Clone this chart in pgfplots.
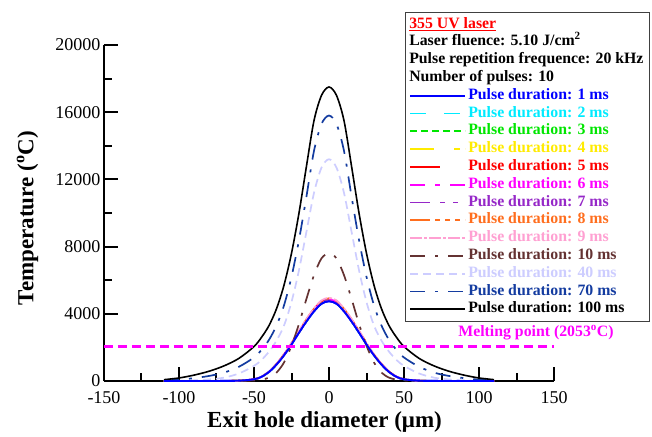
\documentclass[border=0pt]{standalone}
\usepackage{pgfplots}
\usepackage{pgfplotstable}
\usepackage{fontspec}
\setmainfont{Liberation Serif}
\pgfplotsset{compat=1.18}
\definecolor{colA}{RGB}{0,0,255}
\definecolor{colB}{RGB}{0,235,255}
\definecolor{colC}{RGB}{0,230,0}
\definecolor{colD}{RGB}{255,235,0}
\definecolor{colE}{RGB}{255,0,0}
\definecolor{colF}{RGB}{255,0,255}
\definecolor{colG}{RGB}{150,40,200}
\definecolor{colH}{RGB}{255,110,30}
\definecolor{colI}{RGB}{255,160,210}
\definecolor{colJ}{RGB}{100,50,50}
\definecolor{colK}{RGB}{205,205,255}
\definecolor{colL}{RGB}{20,60,160}
\definecolor{colM}{RGB}{0,0,0}
\pgfplotstableread{
x t1 t2 t3 t4 t5 t6 t7 t8 t9 t10 t40 t70 t100
-110 0 0 0 0 0 0 0 0 0 0 0 30 80
-100 0 0 0 0 0 0 0 0 0 0 10 80 180
-90 0 0 0 0 0 0 0 0 0 0 40 170 350
-80 0 0 0 0 0 0 0 0 0 0 90 300 580
-70 5 5 5 5 5 5 5 5 5 0 200 500 900
-60 20 20 20 20 21 20 21 21 21 5 450 850 1350
-50 100 101 101 102 104 102 103 104 105 30 900 1400 2050
-45 250 252 253 255 260 255 257 260 262 80 1250 1850 2600
-40 540 545 545 550 560 550 555 560 565 200 1750 2450 3300
-35 980 985 990 990 1010 1000 1005 1015 1020 500 2400 3300 4300
-30 1530 1540 1545 1550 1580 1560 1570 1585 1595 1100 3300 4500 5700
-25 2180 2190 2195 2200 2250 2225 2240 2260 2270 2100 4700 6200 7600
-20 2880 2890 2900 2910 2970 2940 2960 2980 3000 3400 6600 8400 10000
-15 3550 3560 3570 3590 3660 3620 3650 3680 3700 4900 8900 11000 12800
-10 4150 4170 4180 4190 4280 4240 4260 4300 4320 6300 11200 13700 15500
-5 4600 4620 4630 4650 4750 4700 4730 4770 4800 7300 12700 15300 17000
0 4750 4770 4780 4800 4900 4850 4880 4920 4950 7600 13200 15800 17500
5 4600 4620 4630 4650 4750 4700 4730 4770 4800 7300 12700 15300 17000
10 4150 4170 4180 4190 4280 4240 4260 4300 4320 6300 11200 13700 15500
15 3550 3560 3570 3590 3660 3620 3650 3680 3700 4900 8900 11000 12800
20 2880 2890 2900 2910 2970 2940 2960 2980 3000 3400 6600 8400 10000
25 2180 2190 2195 2200 2250 2225 2240 2260 2270 2100 4700 6200 7600
30 1530 1540 1545 1550 1580 1560 1570 1585 1595 1100 3300 4500 5700
35 980 985 990 990 1010 1000 1005 1015 1020 500 2400 3300 4300
40 540 545 545 550 560 550 555 560 565 200 1750 2450 3300
45 250 252 253 255 260 255 257 260 262 80 1250 1850 2600
50 100 101 101 102 104 102 103 104 105 30 900 1400 2050
60 20 20 20 20 21 20 21 21 21 5 450 850 1350
70 5 5 5 5 5 5 5 5 5 0 200 500 900
80 0 0 0 0 0 0 0 0 0 0 90 300 580
90 0 0 0 0 0 0 0 0 0 0 40 170 350
100 0 0 0 0 0 0 0 0 0 0 10 80 180
110 0 0 0 0 0 0 0 0 0 0 0 30 80
}\datatable
\pgfplotstableread{
x y
-150 2053
150 2053
}\meltline
\begin{document}
\begin{tikzpicture}
\begin{axis}[
  scale only axis, width=450bp, height=336bp,
  xmin=-150, xmax=150, ymin=0, ymax=20000,
  xtick={-150,-100,...,150}, minor xtick={-125,-75,...,125},
  ytick={0,4000,...,20000}, minor ytick={2000,6000,...,18000},
  axis x line*=bottom, axis y line*=left,
  axis line style={line width=2.2bp, -},
  tick align=inside, major tick length=14bp, minor tick length=8bp,
  every tick/.style={line width=2bp, black},
  scaled y ticks=false,
  /pgf/number format/1000 sep={},
  /pgf/number format/assume math mode=true,
  tick label style={font=\fontsize{18bp}{20bp}\selectfont},
  xticklabel style={yshift=-7bp},
  xlabel={Exit hole diameter (μm)},
  ylabel={Temperature (\textsuperscript{o}C)},
  label style={font=\fontsize{23bp}{25bp}\selectfont\bfseries},
  xlabel style={at={(axis description cs:0.49,-0.122)}, anchor=center},
  ylabel style={at={(axis description cs:-0.17,0.485)}, anchor=center},
  legend image code/.code={\draw[#1] (0bp,0bp) -- (55bp,0bp);},
  legend cell align=left,
  legend style={at={(axis description cs:1.2133,1.098)}, anchor=north east,
    draw=black!75, line width=1bp, inner xsep=4bp, inner ysep=3bp,
    font=\fontsize{15.8bp}{17bp}\selectfont\bfseries,
    nodes={text height=10.6bp, text depth=3.4bp, inner ysep=1.9bp, inner xsep=2bp},
    row sep=0bp,
    /tikz/every even column/.append style={column sep=2bp}},
  clip=false,
]
\coordinate (O) at (rel axis cs:0,0);
\addlegendimage{empty legend}
\addlegendentry{\hspace*{-59bp}\textcolor{red}{\underline{355 UV laser}}}
\addlegendimage{empty legend}
\addlegendentry{\hspace*{-59bp}Laser fluence: 5.10 J/cm\textsuperscript{2}}
\addlegendimage{empty legend}
\addlegendentry{\hspace*{-59bp}Pulse repetition frequence: 20 kHz}
\addlegendimage{empty legend}
\addlegendentry{\hspace*{-59bp}Number of pulses: 10}
\addplot[colA, line width=1.9bp, smooth] table[x=x,y=t1]{\datatable};
\addlegendentry{\textcolor{colA}{Pulse duration: 1 ms}}
\addplot[colB, line width=1.8bp, smooth, dash pattern=on 16bp off 18bp] table[x=x,y=t2]{\datatable};
\addlegendentry{\textcolor{colB}{Pulse duration: 2 ms}}
\addplot[colC, line width=1.7bp, smooth, dash pattern=on 7bp off 4bp] table[x=x,y=t3]{\datatable};
\addlegendentry{\textcolor{colC}{Pulse duration: 3 ms}}
\addplot[colD, line width=1.7bp, smooth, dash pattern=on 24bp off 20bp on 6bp off 5bp] table[x=x,y=t4]{\datatable};
\addlegendentry{\textcolor{colD}{Pulse duration: 4 ms}}
\addplot[colE, line width=1.7bp, smooth, dash pattern=on 30bp off 28bp] table[x=x,y=t5]{\datatable};
\addlegendentry{\textcolor{colE}{Pulse duration: 5 ms}}
\addplot[colF, line width=1.8bp, smooth, dash pattern=on 15bp off 10bp on 5bp off 10bp] table[x=x,y=t6]{\datatable};
\addlegendentry{\textcolor{colF}{Pulse duration: 6 ms}}
\addplot[colG, line width=1.7bp, smooth, dash pattern=on 20bp off 10bp on 5bp off 8bp on 5bp off 8bp] table[x=x,y=t7]{\datatable};
\addlegendentry{\textcolor{colG}{Pulse duration: 7 ms}}
\addplot[colH, line width=1.7bp, smooth, dash pattern=on 20bp off 5bp on 5bp off 5bp on 5bp off 5bp on 5bp off 5bp] table[x=x,y=t8]{\datatable};
\addlegendentry{\textcolor{colH}{Pulse duration: 8 ms}}
\addplot[colI, line width=1.7bp, smooth, dash pattern=on 12bp off 2bp on 3bp off 2bp] table[x=x,y=t9]{\datatable};
\addlegendentry{\textcolor{colI}{Pulse duration: 9 ms}}
\addplot[colJ, line width=1.7bp, smooth, dash pattern=on 15bp off 10bp on 3bp off 10bp] table[x=x,y=t10]{\datatable};
\addlegendentry{\textcolor{colJ}{Pulse duration: 10 ms}}
\addplot[colK, line width=1.7bp, smooth, dash pattern=on 8bp off 5bp] table[x=x,y=t40]{\datatable};
\addlegendentry{\textcolor{colK}{Pulse duration: 40 ms}}
\addplot[colL, line width=1.7bp, smooth, dash pattern=on 15bp off 10bp on 3bp off 10bp] table[x=x,y=t70]{\datatable};
\addlegendentry{\textcolor{colL}{Pulse duration: 70 ms}}
\addplot[colM, line width=1.6bp, smooth] table[x=x,y=t100]{\datatable};
\addlegendentry{\textcolor{colM}{Pulse duration: 100 ms}}
\addplot[colA, line width=1.9bp, smooth, forget plot] table[x=x,y=t1]{\datatable};
\addplot[colF, line width=2.5bp, dash pattern=on 9bp off 5bp, forget plot] table[x=x,y=y]{\meltline};
\node[text=colF, font=\fontsize{15.8bp}{17bp}\selectfont\bfseries] at (axis cs:138,2880) {Melting point (2053\textsuperscript{o}C)};
\end{axis}
\pgfresetboundingbox
\path (O) ++(-104bp,-56bp) rectangle ++(652bp,437bp);
\end{tikzpicture}
\end{document}
